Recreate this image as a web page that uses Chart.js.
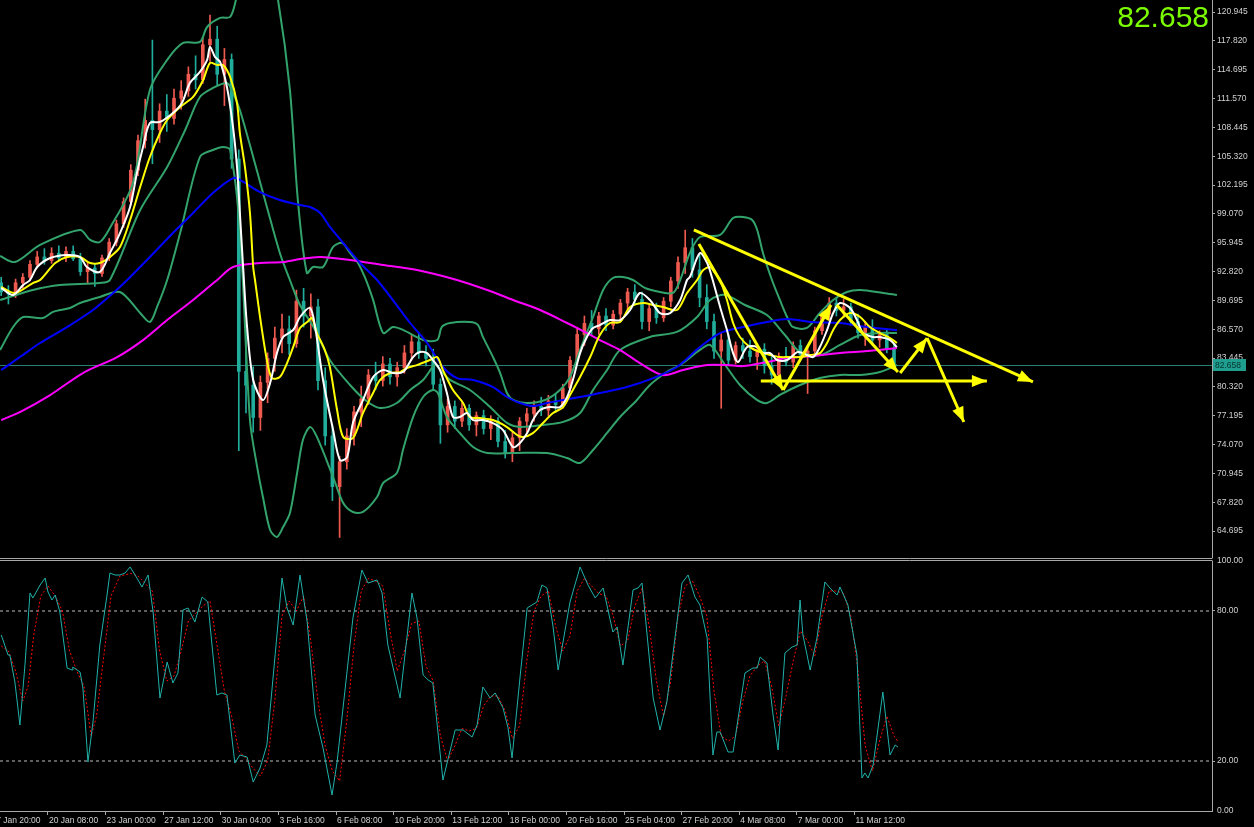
<!DOCTYPE html>
<html>
<head>
<meta charset="utf-8">
<script src="https://cdn.jsdelivr.net/npm/chart.js@4.4.1/dist/chart.umd.min.js"></script>
<style>
  html, body { margin: 0; padding: 0; background: #000; overflow: hidden; }
  #wrap { position: relative; width: 1254px; height: 827px; background: #000; }
  canvas { position: absolute; left: 0; }
  #priceChart { top: 0; }
  #stochChart { top: 548px; }
</style>
</head>
<body>
<div id="wrap">
  <canvas id="priceChart" width="1254" height="562"></canvas>
  <canvas id="stochChart" width="1254" height="279"></canvas>
</div>
<script>
// ---- data (x = H4 bar number, y = price) ----
const candleOpen  = [91.6,90.6,90.4,91.6,92.2,93.6,94.4,94.0,94.8,94.3,95.0,94.2,92.8,93.2,92.6,94.3,96.0,98.0,100.4,103.8,107.0,109.2,108.2,110.2,109.4,111.6,112.4,114.2,113.6,117.4,118.0,114.2,115.8,105.0,82.0,80.5,77.0,80.8,83.4,85.6,86.6,85.0,89.6,88.0,89.0,81.0,75.0,69.5,72.2,75.0,77.6,79.0,81.6,81.0,82.8,81.4,82.4,84.0,85.2,84.0,83.4,80.6,76.2,78.2,76.6,78.0,76.2,77.2,75.8,76.6,74.4,73.2,74.8,76.6,77.4,78.2,77.8,78.8,78.4,80.2,83.2,86.0,87.2,86.6,88.0,87.0,88.2,89.4,90.6,89.8,87.4,88.8,87.8,89.6,91.8,93.8,95.4,93.0,90.0,87.4,84.2,85.4,83.2,84.8,84.2,83.6,84.4,82.6,81.6,83.6,83.0,84.8,83.8,84.2,86.4,88.2,89.4,88.6,89.0,87.4,86.2,86.8,85.4,86.0,84.4];
const candleHigh  = [92.2,91.3,92.0,92.6,94.0,95.0,95.3,95.4,95.6,95.5,95.6,94.8,93.8,93.6,94.6,96.4,98.4,100.8,104.4,107.6,111.5,117.9,111.0,112.0,112.6,113.5,115.0,116.2,118.2,120.6,119.4,117.0,116.4,106.0,86.5,82.5,81.5,84.0,86.8,88.2,88.0,90.8,91.0,90.4,89.8,82.4,76.2,72.8,75.8,78.2,80.4,82.2,83.0,83.6,83.4,83.0,84.8,86.0,86.2,84.8,84.4,81.2,79.0,78.8,78.6,78.4,77.6,77.8,77.2,77.0,75.6,75.4,77.0,78.0,78.8,79.2,79.4,79.6,80.6,83.6,86.6,88.0,88.6,88.4,88.8,88.6,89.8,91.0,91.4,90.6,89.2,89.4,90.0,92.2,94.4,97.3,96.4,94.6,91.4,88.2,86.2,86.0,85.2,85.6,85.4,85.0,85.0,83.8,84.0,84.6,85.2,85.4,84.6,86.8,88.6,90.0,90.0,89.8,89.4,88.2,87.4,87.6,86.4,86.6,85.0];
const candleLow   = [90.2,89.3,90.0,91.0,91.8,93.2,93.6,93.7,94.0,93.9,94.0,92.4,91.6,91.2,92.3,94.0,95.6,97.6,100.0,103.2,106.2,104.5,106.8,108.0,108.8,110.4,111.8,112.6,113.2,115.6,113.0,110.8,104.0,73.4,77.5,75.4,75.6,78.6,82.0,84.0,83.8,84.6,86.8,85.6,80.0,74.0,68.0,64.0,71.4,74.0,76.0,78.4,80.0,80.4,80.6,80.4,81.8,83.2,83.4,82.6,80.0,74.2,75.4,75.8,76.0,75.6,75.0,75.2,74.6,73.8,72.6,72.2,73.4,75.4,76.6,77.2,77.2,77.6,78.0,79.8,82.8,84.8,86.0,86.0,86.4,86.6,87.4,88.6,89.2,86.6,86.4,87.2,87.4,89.0,91.0,92.6,92.2,89.0,86.6,83.4,78.0,82.6,82.8,83.4,83.0,82.2,81.8,80.6,81.0,82.6,82.4,83.2,79.6,83.8,86.0,87.6,88.0,87.8,87.0,85.6,84.8,85.0,84.6,84.0,82.4];
const candleClose = [90.6,90.4,91.6,92.2,93.6,94.4,94.0,94.8,94.3,95.0,94.2,92.8,93.2,92.6,94.3,96.0,98.0,100.4,103.8,107.0,109.2,108.2,110.2,109.4,111.6,112.4,114.2,113.6,117.4,118.0,114.2,115.8,105.0,82.0,80.5,77.0,80.8,83.4,85.6,86.6,85.0,89.6,88.0,89.0,81.0,75.0,69.5,72.2,75.0,77.6,79.0,81.6,81.0,82.8,81.4,82.4,84.0,85.2,84.0,83.4,80.6,76.2,78.2,76.6,78.0,76.2,77.2,75.8,76.6,74.4,73.2,74.8,76.6,77.4,78.2,77.8,78.8,78.4,80.2,83.2,86.0,87.2,86.6,88.0,87.0,88.2,89.4,90.6,89.8,87.4,88.8,87.8,89.6,91.8,93.8,95.4,93.0,90.0,87.4,84.2,85.4,83.2,84.8,84.2,83.6,84.4,82.6,81.6,83.6,83.0,84.8,83.8,84.2,86.4,88.2,89.4,88.6,89.0,87.4,86.2,86.8,85.4,86.0,84.4,82.658];
const candleStep = 2; // one candle every two H4 bars

const whiteMA = [[0,91.03],[3.3,90.27],[6.1,91.36],[8,91.9],[10,93.31],[13.6,94.28],[18.3,94.61],[21.9,94.39],[23.8,93.31],[27.4,92.77],[30.2,94.82],[33,96.99],[35.8,99.81],[37.7,103.5],[39.4,106.31],[41.3,108.92],[44.1,109.03],[47.7,110],[50.2,111.08],[52.4,113.25],[55.2,114.45],[57.2,115.75],[58,117.16],[59.4,116.07],[60.8,115.53],[62.7,112.82],[64.4,108.48],[65.5,104.15],[66.3,99.16],[67.2,93.31],[68.3,86.8],[70,81.06],[72.7,78.89],[74.7,80.73],[76.6,83.98],[78.3,85.72],[81.1,86.48],[83,87.89],[85.8,88.86],[87.2,86.8],[89.4,81.06],[92.2,75.64],[94.1,72.38],[96.1,72.71],[97.7,76.4],[100.5,78.89],[103.3,81.38],[106.1,82.14],[108.8,81.82],[111.6,81.92],[114.4,83.55],[116.3,84.09],[118.3,83.98],[119.9,83.23],[121.9,82.14],[123.8,79.65],[125.5,77.05],[127.4,77.05],[129.4,77.48],[131.1,76.72],[133.8,76.72],[136.6,76.4],[139.4,75.64],[142.2,73.79],[144.1,74.23],[146.1,75.31],[147.7,76.72],[149.7,77.81],[152.4,78.13],[155.2,78.13],[157.2,79.22],[158.8,81.06],[160.8,83.98],[162.7,85.72],[164.4,86.69],[166.3,87.02],[169.1,87.56],[171.9,87.56],[174.7,88.65],[177.4,90.49],[180.2,89.73],[183,88.32],[185.8,88.32],[188.6,89.73],[190.5,91.9],[191.3,92.22],[194.1,94.82],[196.1,93.74],[197.4,92.22],[199.7,88.97],[201.6,86.48],[203.3,83.98],[204.7,83.01],[207.2,84.63],[210,84.63],[211.6,83.98],[213.6,83.98],[215.5,83.23],[218.3,83.23],[221.1,84.09],[222.7,83.98],[225.5,83.55],[227.4,84.63],[229.4,86.48],[231.1,88.32],[233,89.4],[235.8,88.86],[237.7,87.56],[239.4,86.15],[242.2,85.72],[244.1,85.72],[246.9,85.39],[248.8,84.63]];
const yellowMA = [[0,91.14],[3.8,90.49],[8.8,91.57],[10.8,91.9],[15,93.74],[18.3,94.39],[21.9,94.39],[24.7,93.74],[27.4,93.74],[30.2,94.39],[33,95.47],[35.8,98.4],[38.6,101.98],[41.3,105.23],[44.1,107.83],[46.1,109.24],[49.7,110.65],[53.3,111.74],[56.1,113.58],[58,115.42],[60,115.2],[61.6,115.2],[63.6,113.9],[65.5,111.08],[66.3,107.83],[67.7,104.15],[69.1,99.16],[70,93.31],[70.5,91.9],[71.9,87.89],[73.8,83.23],[75.2,81.27],[77.4,81.38],[79.4,82.9],[81.1,84.63],[83,86.69],[85,87.34],[86.3,87.78],[87.7,86.15],[89.9,84.31],[91.3,82.47],[93.3,77.81],[95,74.88],[97.7,74.77],[100.5,77.48],[103.3,79.65],[105.2,81.06],[108,81.82],[110.8,81.92],[112.7,82.36],[115.5,82.68],[119.1,83.23],[121.1,83.55],[122.7,82.14],[125.5,79.97],[128.3,78.57],[130.2,77.05],[133,76.94],[136.6,76.72],[140.5,75.96],[143.3,75.1],[145,74.88],[147.7,75.31],[150.5,76.4],[153.3,77.48],[156.1,78.13],[158,79.43],[160.8,81.38],[163.6,83.55],[166.3,85.94],[169.1,87.24],[171.9,87.34],[174.7,88.97],[178.3,89.4],[181.1,89.19],[183.8,88.97],[187.7,88.65],[190.5,90.49],[193.3,91.9],[195,92.98],[196.9,93.31],[198.3,92.66],[199.7,91.9],[201.6,89.73],[203.3,87.24],[205.2,85.72],[208,84.63],[210.8,84.09],[213.6,83.77],[216.3,83.55],[219.1,83.55],[221.9,83.55],[224.7,83.77],[227.4,83.98],[229.4,85.07],[231.1,86.48],[233,87.56],[235.8,88.32],[238.6,87.89],[241.3,86.8],[244.1,86.15],[246.9,85.61],[248.8,85.07]];
const blueMA = [[0,82.14],[5.2,83.55],[10.8,85.07],[18.3,86.8],[25.5,88.65],[31.1,90.49],[35,91.9],[41.3,94.39],[47.7,96.99],[53.3,99.16],[58.8,101.33],[64.4,102.95],[66.3,102.74],[71.9,101.43],[77.4,100.57],[83,100.02],[85.8,99.81],[88.6,99.16],[91.3,97.65],[95,95.91],[99.7,93.74],[104.4,91.9],[108.8,89.73],[113.6,87.24],[118.3,85.07],[122.7,82.47],[126.6,81.27],[131.1,81.06],[136.6,80.3],[140.5,79.22],[144.1,78.57],[147.7,78.24],[151.6,78.57],[156.1,78.89],[160.8,79.22],[166.3,79.65],[173.8,80.3],[181.1,81.27],[187.7,82.47],[194.1,84.63],[199.7,86.15],[206.1,86.8],[212.7,87.34],[218.3,87.67],[225.5,87.34],[233,87.24],[240.5,86.8],[248.8,86.48]];
const magentaMA = [[0,76.72],[5.2,77.59],[13.6,79.43],[22.7,81.82],[32.2,83.55],[39.4,85.39],[46.1,87.56],[53.3,89.73],[60,91.9],[64.4,93.31],[71.9,93.74],[78.3,93.85],[83,94.17],[88.6,94.39],[96.9,94.06],[106.1,93.52],[115.5,92.98],[126.6,91.9],[135,90.81],[142.2,89.73],[149.7,88.65],[157.2,87.24],[162.7,86.15],[166.3,85.39],[171.9,84.31],[177.4,82.9],[183.8,81.6],[189.4,82.14],[196.1,82.68],[201.6,82.68],[206.1,82.57],[212.7,83.01],[218.3,83.44],[225.5,83.66],[233,83.98],[240.5,84.2],[248.8,84.53]];
const bandUpper = [[-0.3,94.5],[3.8,93.85],[10.8,95.7],[21.9,97.32],[24.7,96.24],[27.4,96.02],[30.2,97.54],[36.6,102.42],[41.3,112.5],[46.1,115.75],[50.5,117.59],[55.2,117.7],[57.2,119.32],[60.8,120.3],[63.6,120.41],[65.2,122.25],[69.1,128.75],[73.3,128.75],[76.9,122.25],[80.2,112.5],[82.4,100.57],[84.9,92.66],[86.6,93.31],[89.4,93.31],[92.2,95.48],[94.7,95.91],[96.9,94.83],[99.1,93.75],[101.1,92.12],[103.3,89.74],[106.1,86.16],[108.8,86.81],[111.6,86.49],[117.2,85.4],[121.1,85.4],[122.4,86.81],[124.7,87.24],[130.2,87.35],[132.4,87.03],[133.8,85.73],[136.6,83.56],[138.6,81.82],[140.5,79.66],[142.2,78.9],[146.1,78.57],[151.1,78.9],[155.2,79.98],[158,81.39],[160.8,84.32],[164.4,87.89],[167.2,90.82],[169.9,92.12],[172.7,92.23],[175.5,91.9],[178.8,91.04],[183,90.6],[186.6,90.5],[188.6,91.9],[191.3,94.83],[194.1,96.56],[199.7,96.78],[203.3,98.62],[206.1,98.73],[208.6,98.41],[210,97.32],[211.6,94.83],[214.1,91.9],[216.3,89.74],[218.3,87.89],[219.9,86.81],[223.8,86.7],[227.4,88.33],[231.1,89.74],[234.9,90.6],[238.6,90.82],[245,90.5],[248.8,90.28]];
const bandMiddle = [[-0.3,89.74],[8.8,90.82],[16.3,91.36],[27.4,91.58],[30.2,91.9],[38.6,99.49],[46.1,104.15],[51.1,108.16],[55.2,111.74],[58.8,112.71],[62.7,113.25],[64.4,112.17],[66.3,110.33],[70,105.23],[73.8,99.82],[77.4,94.83],[80.2,91.9],[83,89.19],[87.2,86.49],[91.3,83.23],[96.9,80.52],[101.1,78.9],[105.2,78.03],[109.9,78.57],[113.6,79.98],[117.2,81.07],[120.5,82.69],[121.9,82.15],[124.7,81.07],[130.2,79.98],[135.8,78.14],[140.5,76.41],[144.1,75.97],[150.5,76.19],[156.1,76.52],[160.8,77.49],[164.4,79.98],[168.3,82.15],[171.9,84.32],[180.2,85.73],[187.7,86.27],[193.3,87.89],[196.9,89.74],[201.1,90.28],[206.6,89.19],[212.7,88.11],[217.7,85.94],[221.9,84.1],[227.4,83.77],[233,84.86],[238.6,85.94],[244.1,86.16],[248.8,86.16]];
const bandLower = [[-0.3,84.32],[3.3,86.81],[6.1,87.89],[11.6,87.78],[14.4,88.44],[19.1,88.87],[21.9,89.41],[27.4,90.06],[33,90.6],[38.6,88.33],[41.3,87.35],[43.3,88.98],[46.1,91.9],[49.7,96.99],[55.2,105.23],[58.8,105.99],[61.6,106.32],[63.6,105.99],[66.3,97.32],[69.1,76.73],[71.1,71.64],[72.7,68.38],[74.7,64.81],[76.6,64.05],[78.3,65.13],[80.2,66.65],[82.2,70.99],[83.8,74.56],[85.8,75.97],[87.7,74.89],[92.2,70.55],[95,67.73],[97.7,66.76],[100.5,66.76],[104.4,68.38],[106.1,69.9],[109.9,70.99],[111.6,73.48],[114.4,77.05],[117.2,79.22],[119.9,79.98],[121.3,79.66],[123.8,77.05],[127.4,75.32],[131.1,73.8],[135,73.15],[142.2,73.15],[151.6,73.15],[157.2,72.61],[160.8,72.07],[164.4,73.48],[168.3,75.32],[171.9,77.05],[176.6,78.9],[180.2,80.52],[184.9,81.93],[188.6,82.69],[194.1,84.32],[196.9,84.86],[201.1,82.69],[205.2,80.52],[209.9,78.9],[212.7,78.57],[216.3,79.44],[221.9,80.52],[227.4,81.28],[233,81.61],[238.6,81.61],[244.1,81.93],[248.8,82.69]];

// hand-drawn arrows: [start, end] as [bar, price]
const arrowLines = [
  [[192.4, 97.32], [286.6, 80.85]],
  [[193.8, 95.80], [217.2, 79.98]],
  [[217.2, 79.98], [230.5, 89.19]],
  [[232.1, 89.19], [249.1, 81.93]],
  [[249.7, 81.82], [257.2, 85.61]],
  [[257.2, 85.61], [267.4, 76.51]],
  [[211.0, 80.95], [273.8, 80.95]]
];

// stochastic
const stochMain = [[0,70.4],[0.5,68.4],[1.9,62.4],[2.4,62.4],[3.8,51.6],[5.2,34.4],[6.6,58.4],[8,87.2],[8.8,85.2],[10.8,90.4],[12.2,93.2],[13,87.6],[14.1,84.4],[15,86.4],[16.3,79.6],[18.3,57.2],[19.7,56.4],[19.9,57.6],[21.9,55.6],[22.7,49.2],[24.1,19.6],[25.5,35.6],[27.4,66.4],[29.4,86.4],[30.2,95.2],[31.6,94.4],[33,94.4],[34.4,95.2],[35.8,97.6],[37.7,93.2],[39.1,89.6],[40.8,94.4],[42.2,79.6],[44.1,45.2],[46.1,59.6],[47.7,51.2],[49.1,55.2],[50.5,80.4],[51.9,81.2],[53.8,75.6],[55.8,85.6],[57.4,83.6],[59.9,46.4],[61.3,47.2],[62.7,46.4],[64.9,19.2],[66.3,22.4],[68.3,21.6],[70,11.6],[71.9,17.2],[73.8,26.4],[76.6,70.4],[78,93.2],[79.4,81.2],[81.1,74.4],[83,94.4],[85,75.6],[87.2,38.4],[89.4,25.2],[91.9,6.4],[93.3,19.6],[97.7,77.2],[100.2,96.4],[101.9,91.2],[104.4,92.4],[105.8,87.2],[107.4,66.4],[110.8,45.2],[114.1,87.2],[115.5,77.2],[117.2,54.4],[118.6,52.4],[119.9,51.2],[122.7,12.4],[126.1,32.4],[128.3,32.4],[130.8,29.6],[132.2,34.4],[133.8,49.6],[135.8,45.2],[137.2,47.2],[139.4,41.2],[140.8,33.2],[141.9,21.2],[144.1,53.2],[146.1,81.2],[148.8,83.6],[150.2,90.4],[151.6,89.2],[153.3,73.6],[154.7,56.4],[158,83.6],[160.8,97.6],[163,90.4],[165,85.2],[166.3,87.6],[167.2,89.2],[169.9,71.6],[171.1,73.6],[172.7,58.4],[175.5,88.4],[176.9,89.2],[178,91.2],[178.8,79.6],[181.1,45.2],[183,32.4],[184.9,43.6],[189.1,91.2],[190.8,94.4],[192.7,85.6],[194.1,82.4],[196.1,69.2],[197.7,22.4],[198.8,31.6],[199.7,31.6],[201.9,23.6],[203.3,23.6],[206.6,55.2],[208.8,57.2],[210,57.2],[210.8,61.6],[212.7,59.2],[214.4,38.4],[215.8,24.4],[217.7,63.2],[219.7,65.6],[221.1,66.4],[221.9,84.4],[222.7,70.4],[224.7,56.4],[226.6,69.2],[228.8,91.6],[230.2,89.2],[232.2,86.4],[233,89.6],[235.2,82.4],[237.7,62.4],[239.1,13.2],[239.9,15.2],[240.8,13.2],[242.2,18.4],[244.9,47.6],[246.9,22.4],[248.3,26.4],[249.1,25.6]];
const stochSignal = [[0,66],[2,64],[4,56],[6,44],[7.5,50],[9,70],[11,86],[13,90],[15,86],[17,80],[19,64],[21,56],[23,50],[25,30],[26.5,38],[28.5,62],[30.5,86],[33,94],[36,95],[38,94],[40,91],[42,88],[44,64],[46,52],[48,54],[50,64],[52,76],[54,79],[56,82],[58,84],[60,66],[62,48],[64,38],[66,24],[68,21],[70,17],[72,14],[74,20],[76,44],[78,78],[80,84],[82,80],[84,86],[86,68],[88,44],[90,26],[92,16],[94,12],[96,36],[98,66],[100,88],[102,93],[104,92],[106,90],[108,72],[110,56],[112,64],[114,75],[116,76],[118,58],[120,52],[122,30],[124,20],[126,26],[128,33],[130,32],[132,33],[134,42],[136,46],[138,46],[140,40],[142,29],[144,34],[146,60],[148,80],[150,86],[152,88],[154,74],[156,64],[158,70],[160,88],[162,93],[164,90],[166,87],[168,86],[170,78],[172,66],[174,68],[176,82],[178,89],[180,74],[182,52],[184,38],[186,52],[188,78],[190,90],[192,92],[194,86],[196,78],[198,48],[200,30],[202,28],[204,30],[206,44],[208,54],[210,58],[212,60],[214,50],[216,34],[218,46],[220,60],[222,72],[224,68],[226,62],[228,78],[230,88],[232,88],[234,87],[236,78],[238,56],[240,26],[242,16],[244,28],[246,38],[248,30],[249,28]];
const stochLevels = [20, 80];

// axes
const priceTicks = [120.945,117.820,114.695,111.570,108.445,105.320,102.195,99.070,95.945,92.820,89.695,86.570,83.445,80.320,77.195,74.070,70.945,67.820,64.695];
const stochTicks = [0, 20, 80, 100];
const dateTickBars = [-3,13,29,45,61,77,93,109,125,141,157,173,189,205,221,237];
const dateTickLabels = ['17 Jan 20:00','20 Jan 08:00','23 Jan 00:00','27 Jan 12:00','30 Jan 04:00','3 Feb 16:00','6 Feb 08:00','10 Feb 20:00','13 Feb 12:00','18 Feb 00:00','20 Feb 16:00','25 Feb 04:00','27 Feb 20:00','4 Mar 08:00','7 Mar 00:00','11 Mar 12:00'];

const lastPrice = candleClose[candleClose.length - 1];

// ---- look ----
const X_MIN = -0.333, X_MAX = 336.33;
const P_MIN = 61.88, P_MAX = 122.246;
const AXIS_W = 42;
const UP = '#ef5a50', DOWN = '#20ad9c', BAND = '#33a36c', FRAME = '#a8a8a8', LABEL = '#d2d2d2';
const FONT = 'Liberation Sans, Arial, sans-serif';

Chart.defaults.font.family = FONT;
Chart.defaults.font.size = 8.5;
Chart.defaults.color = LABEL;
Chart.defaults.animation = false;

function fitAxis(w, h) {
  return function (s) {
    if (w != null) s.width = w;
    if (h != null) s.height = h;
    s.paddingTop = 0; s.paddingBottom = 0; s.paddingLeft = 0; s.paddingRight = 0;
  };
}
const pts = arr => arr.map(([x, y]) => ({ x: x, y: y }));
function lineSet(data, color, width, order, extra) {
  return Object.assign({
    type: 'line', data: pts(data), borderColor: color, borderWidth: width,
    pointRadius: 0, tension: 0.3, fill: false, order: order
  }, extra || {});
}

const candleBars = candleClose.map((_, i) => i * candleStep);
const isUp = i => candleClose[i] >= candleOpen[i];

const priceDatasets = [
  {
    type: 'bar', order: 20, grouped: false, barThickness: 1,
    data: candleBars.map((b, i) => ({ x: b, y: [candleLow[i], candleHigh[i]] })),
    backgroundColor: ctx => isUp(ctx.dataIndex) ? UP : DOWN
  },
  {
    type: 'bar', order: 19, grouped: false, barThickness: 3, minBarLength: 1,
    data: candleBars.map((b, i) => ({ x: b, y: [candleOpen[i], candleClose[i]] })),
    backgroundColor: ctx => isUp(ctx.dataIndex) ? UP : DOWN
  },
  lineSet(bandUpper, BAND, 2, 8),
  lineSet(bandMiddle, BAND, 2, 8),
  lineSet(bandLower, BAND, 2, 8),
  lineSet(magentaMA, '#ff00ff', 2, 6),
  lineSet(blueMA, '#0000ff', 2, 5),
  lineSet(yellowMA, '#ffff00', 2, 4),
  lineSet(whiteMA, '#ffffff', 2, 3)
];
arrowLines.forEach(a => {
  priceDatasets.push(lineSet(a, '#ffff00', 3, 0, { tension: 0, arrow: true, clip: false }));
});

const priceOverlay = {
  id: 'priceOverlay',
  beforeDatasetsDraw(chart) {
    const { ctx, chartArea: a, scales } = chart;
    const y = Math.round(scales.y.getPixelForValue(lastPrice)) + 0.5;
    ctx.save();
    ctx.strokeStyle = '#2a7f76';
    ctx.lineWidth = 1;
    ctx.beginPath(); ctx.moveTo(a.left, y); ctx.lineTo(a.right, y); ctx.stroke();
    ctx.restore();
  },
  afterDatasetsDraw(chart) {
    const ctx = chart.ctx;
    chart.data.datasets.forEach((ds, i) => {
      if (!ds.arrow) return;
      const el = chart.getDatasetMeta(i).data;
      const p1 = el[el.length - 2], p2 = el[el.length - 1];
      const ang = Math.atan2(p2.y - p1.y, p2.x - p1.x);
      const len = 15, half = 6;
      ctx.save();
      ctx.fillStyle = '#ffff00';
      ctx.translate(p2.x, p2.y); ctx.rotate(ang);
      ctx.beginPath(); ctx.moveTo(0, 0); ctx.lineTo(-len, -half); ctx.lineTo(-len, half); ctx.closePath(); ctx.fill();
      ctx.restore();
    });
  },
  afterDraw(chart) {
    const { ctx, chartArea: a, scales } = chart;
    ctx.save();
    ctx.strokeStyle = FRAME; ctx.lineWidth = 1;
    ctx.beginPath(); ctx.moveTo(0, a.bottom + 1.5); ctx.lineTo(a.right + 0.5, a.bottom + 1.5); ctx.stroke();
    const y = Math.round(scales.y.getPixelForValue(lastPrice));
    ctx.fillStyle = '#1f9e8f';
    ctx.fillRect(a.right + 1, y - 6, 33, 12);
    ctx.fillStyle = '#05332d';
    ctx.font = '8.5px ' + FONT;
    ctx.textBaseline = 'middle'; ctx.textAlign = 'left';
    ctx.fillText(lastPrice.toFixed(3), a.right + 3, y + 0.5);
    ctx.fillStyle = '#7cfc00';
    ctx.font = '30px ' + FONT;
    ctx.textAlign = 'right'; ctx.textBaseline = 'alphabetic';
    ctx.fillText(lastPrice.toFixed(3), a.right - 3, 27);
    ctx.restore();
  }
};

new Chart(document.getElementById('priceChart'), {
  type: 'line',
  data: { datasets: priceDatasets },
  options: {
    responsive: false, maintainAspectRatio: false, devicePixelRatio: 1,
    layout: { padding: { left: 0, right: 0, top: 0, bottom: 5 } },
    plugins: { legend: { display: false }, tooltip: { enabled: false } },
    scales: {
      x: { type: 'linear', min: X_MIN, max: X_MAX, display: false, offset: false },
      y: {
        type: 'linear', position: 'right', min: P_MIN, max: P_MAX,
        afterBuildTicks: s => { s.ticks = priceTicks.map(v => ({ value: v })); },
        afterFit: fitAxis(AXIS_W, null),
        ticks: { callback: v => Number(v).toFixed(3), padding: 2, color: LABEL, autoSkip: false },
        grid: { drawOnChartArea: false, tickLength: 3, color: FRAME },
        border: { display: true, color: FRAME }
      }
    }
  },
  plugins: [priceOverlay]
});

// ---- stochastic panel ----
const stochDatasets = [
  lineSet(stochMain, '#20b2aa', 1, 1, { tension: 0 }),
  lineSet(stochSignal, '#ff0000', 1, 2, { tension: 0, borderDash: [2, 2] })
];
stochLevels.forEach(v => {
  stochDatasets.push(lineSet([[X_MIN, v], [X_MAX, v]], '#bdbdbd', 1, 5, { tension: 0, borderDash: [3, 3] }));
});

const stochOverlay = {
  id: 'stochOverlay',
  afterDraw(chart) {
    const { ctx, chartArea: a } = chart;
    ctx.save();
    ctx.strokeStyle = FRAME; ctx.lineWidth = 1;
    ctx.beginPath(); ctx.moveTo(0, a.top - 0.5); ctx.lineTo(a.right + 0.5, a.top - 0.5); ctx.stroke();
    ctx.restore();
  }
};

new Chart(document.getElementById('stochChart'), {
  type: 'line',
  data: { datasets: stochDatasets },
  options: {
    responsive: false, maintainAspectRatio: false, devicePixelRatio: 1,
    layout: { padding: { left: 0, right: 0, top: 13, bottom: 0 } },
    plugins: { legend: { display: false }, tooltip: { enabled: false } },
    scales: {
      x: {
        type: 'linear', min: X_MIN, max: X_MAX, offset: false,
        afterBuildTicks: s => { s.ticks = dateTickBars.map(v => ({ value: v })); },
        afterFit: fitAxis(null, 16),
        ticks: {
          callback: (v, i) => dateTickLabels[i], align: 'start', labelOffset: 1,
          maxRotation: 0, autoSkip: false, padding: 1, color: LABEL
        },
        grid: { drawOnChartArea: false, tickLength: 4, color: FRAME },
        border: { display: true, color: FRAME }
      },
      y: {
        type: 'linear', position: 'right', min: 0, max: 100,
        afterBuildTicks: s => { s.ticks = stochTicks.map(v => ({ value: v })); },
        afterFit: fitAxis(AXIS_W, null),
        ticks: { callback: v => Number(v).toFixed(2), padding: 2, color: LABEL, autoSkip: false },
        grid: {
          drawOnChartArea: false, tickLength: 3,
          color: ctx => (ctx.tick && (ctx.tick.value === 20 || ctx.tick.value === 80)) ? FRAME : 'rgba(0,0,0,0)'
        },
        border: { display: true, color: FRAME }
      }
    }
  },
  plugins: [stochOverlay]
});
</script>
</body>
</html>
